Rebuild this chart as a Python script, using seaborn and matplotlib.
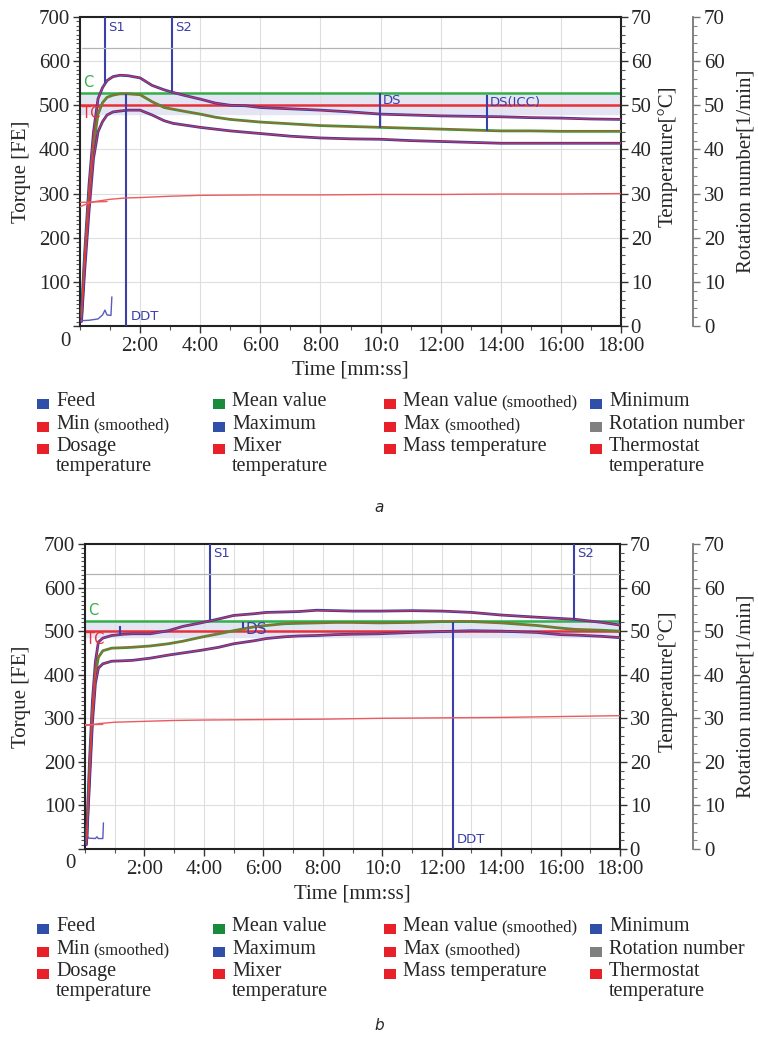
import numpy as np
import pandas as pd
import seaborn as sns
import matplotlib.pyplot as plt
from matplotlib.patches import Rectangle
from matplotlib.ticker import MultipleLocator
import matplotlib.transforms as mtrans

# ---------------- data ----------------
# panel a : torque curves [FE], time in minutes
time_a = [0.05, 0.15, 0.3, 0.45, 0.6, 0.75, 0.9, 1.1, 1.33, 1.6, 2.0, 2.4, 2.8, 3.1, 3.5, 4.0,
          4.5, 5.0, 5.5, 6.0, 7.0, 8.0, 9.0, 10.0, 11.0, 12.0, 13.0, 14.0, 15.0, 16.0, 17.0, 18.0]
max_a = [30, 160, 320, 440, 515, 540, 556, 565, 568, 567, 562, 545, 535, 529, 522, 514,
         505, 500, 499, 495, 492, 489, 485, 480, 478, 476, 475, 474, 472, 471, 469, 468]
mean_a = [20, 140, 290, 410, 480, 506, 518, 523, 526, 526, 524, 508, 495, 491, 486, 480,
          473, 468, 465, 462, 458, 454, 452, 450, 448, 446, 444, 442, 442, 441, 441, 441]
min_a = [10, 120, 260, 380, 440, 463, 478, 485, 487, 489, 489, 478, 465, 459, 455, 450,
         446, 442, 439, 436, 430, 426, 424, 423, 420, 418, 416, 414, 414, 414, 414, 414]
feed_time_a = [0.03, 0.3, 0.6, 0.75, 0.83, 0.9, 1.03, 1.06]
feed_a = [12, 13, 16, 25, 36, 25, 24, 66]

# panel b
time_b = [0.05, 0.15, 0.25, 0.35, 0.45, 0.6, 0.9, 1.3, 1.6, 2.2, 2.8, 3.3, 3.9, 4.5, 5.0, 5.7,
          6.1, 6.7, 7.2, 7.8, 8.4, 9.0, 9.9, 11.0, 12.0, 13.0, 14.0, 15.2, 16.0, 16.5, 17.4, 18.0]
max_b = [20, 200, 340, 430, 475, 484, 490, 493, 494, 494, 501, 511, 519, 528, 536, 540,
         543, 544, 545, 548, 547, 546, 546, 547, 546, 543, 537, 532, 529, 527, 520, 514]
mean_b = [15, 170, 310, 400, 440, 455, 461, 462, 463, 466, 471, 477, 486, 494, 501, 510,
          513, 517, 518, 519, 520, 520, 519, 520, 522, 522, 519, 513, 507, 504, 502, 500]
min_b = [10, 150, 290, 380, 415, 425, 431, 432, 433, 438, 445, 450, 456, 463, 471, 478,
         483, 487, 489, 490, 492, 493, 494, 497, 499, 501, 500, 497, 492, 491, 488, 485]
feed_time_b = [0.05, 0.12, 0.35, 0.4, 0.45, 0.55, 0.6, 0.62]
feed_b = [35, 25, 24, 28, 24, 24, 24, 60]

# temperatures [°C]
temp_time = [0.0, 0.2, 0.5, 1.0, 1.5, 2.0, 3.0, 4.0, 6.0, 8.0, 10.0, 12.0, 14.0, 16.0, 18.0]
temp_a = [27.0, 27.6, 28.2, 28.7, 29.0, 29.1, 29.4, 29.6, 29.7, 29.7, 29.8, 29.8, 29.9, 29.9, 30.0]
temp_b = [28.3, 28.5, 28.8, 29.1, 29.2, 29.3, 29.5, 29.6, 29.7, 29.8, 30.0, 30.1, 30.2, 30.4, 30.6]
dosage_time_a = [0.0, 0.9]
dosage_a = [28.0, 28.2]
dosage_time_b = [0.0, 0.6]
dosage_b = [28.5, 28.6]

# rotation number [1/min]
rot_time = [0.05, 18.0]
rot_value = [63, 63]

# tolerance values (C, TC) and band
c_a, tc_a, band_a = 527, 500, (480, 527)
c_b, tc_b, band_b = 523, 501, (487, 523)

# event markers: label, time, lower, upper
marks_a = [("S1", 0.84, 551, 700), ("S2", 3.06, 530, 700), ("DDT", 1.53, 0, 526),
           ("DS", 9.98, 449, 527), ("DS(ICC)", 13.53, 441, 524)]
marks_b = [("S1", 4.2, 526, 700), ("S2", 16.46, 526, 700), ("DDT", 12.37, 0, 522),
           ("DS", 5.3, 507, 522), ("", 1.18, 491, 512)]

xtick_pos = [2, 4, 6, 8, 10, 12, 14, 16, 18]
xtick_labels = ["2:00", "4:00", "6:00", "8:00", "10:0", "12:00", "14:00", "16:00", "18:00"]

legend_labels = ["Feed", "Mean value", "Mean value", "Minimum",
                 "Min", "Maximum", "Max", "Rotation number",
                 "Dosage\ntemperature", "Mixer\ntemperature", "Mass temperature", "Thermostat\ntemperature"]
legend_notes = ["", "", "(smoothed)", "", "(smoothed)", "", "(smoothed)", "", "", "", "", ""]
legend_colors = ["#2f4fa8", "#1a8a3c", "#e8202a", "#2f4fa8",
                 "#e8202a", "#2f4fa8", "#e8202a", "#808080",
                 "#e8202a", "#e8202a", "#e8202a", "#e8202a"]

# ---------------- style ----------------
sns.set_theme(style="ticks")
plt.rcParams['font.family'] = ['Liberation Serif', 'DejaVu Serif']
plt.rcParams['xtick.direction'] = 'out'
plt.rcParams['ytick.direction'] = 'out'

W, H = 758, 1039
fig = plt.figure(figsize=(W / 100, H / 100), dpi=100)

BLUE = "#3b3aa8"
RED = "#e8333c"
GREEN = "#2a9a3a"
MARK = "#3b3fa8"


def px_box(x0, y0, x1, y1):
    return [x0 / W, 1 - y1 / H, (x1 - x0) / W, (y1 - y0) / H]


def draw_panel(box, t, mx, mn, lo, ft, fv, tmp, dt, dv, c, tc, band, marks, grid_step, lab_y, ds_size):
    ax = fig.add_axes(px_box(*box))
    ax.set_xlim(0, 18)
    ax.set_ylim(0, 700)
    pw = box[2] - box[0]
    ph = box[3] - box[1]

    ax.axhspan(band[0], band[1], color="#e4e4f3", zorder=0)
    ax.grid(False)
    for g in np.arange(grid_step, 18, grid_step):
        ax.axvline(g, color="#dedede", lw=0.8, zorder=0.5)
    for g in range(100, 700, 100):
        ax.axhline(g, color="#dedede", lw=0.8, zorder=0.5)
    ax.axhline(c, color="#33b04a", lw=1.8, zorder=1)
    ax.axhline(tc, color="#e8303a", lw=1.8, zorder=1)

    df = pd.DataFrame({"t": t, "max": mx, "mean": mn, "min": lo})
    sns.lineplot(data=df, x="t", y="max", ax=ax, color=BLUE, lw=2.0, estimator=None, zorder=3)
    sns.lineplot(data=df, x="t", y="max", ax=ax, color=RED, lw=0.7, estimator=None, zorder=4)
    sns.lineplot(data=df, x="t", y="mean", ax=ax, color=GREEN, lw=2.0, estimator=None, zorder=3)
    sns.lineplot(data=df, x="t", y="mean", ax=ax, color="#d8502a", lw=0.7, estimator=None, zorder=4)
    sns.lineplot(data=df, x="t", y="min", ax=ax, color=BLUE, lw=2.0, estimator=None, zorder=3)
    sns.lineplot(data=df, x="t", y="min", ax=ax, color=RED, lw=0.7, estimator=None, zorder=4)
    sns.lineplot(x=ft, y=fv, ax=ax, color="#5a5ac0", lw=1.0, estimator=None, sort=False, zorder=3)

    for lab, mt, y0, y1 in marks:
        ax.vlines(mt, y0, y1, color=MARK, lw=1.5, zorder=5)
        if lab in ("S1", "S2"):
            ax.text(mt + 0.1, 692, lab, color=MARK, fontsize=9.5, family="DejaVu Sans",
                    va="top", ha="left")
        elif lab == "DDT":
            ax.text(mt + 0.15, 6, lab, color=MARK, fontsize=9.5, family="DejaVu Sans",
                    va="bottom", ha="left")
        elif lab == "DS":
            ax.text(mt + 0.1, y1 - 2, lab, color=MARK, fontsize=ds_size,
                    family="DejaVu Sans", va="top", ha="left")
        elif lab:
            ax.text(mt + 0.1, y1 - 2, lab, color=MARK, fontsize=9.5,
                    family="DejaVu Sans", va="top", ha="left")
    ax.text(0.1, c + 8, "C", color="#33b04a", fontsize=10.5, family="DejaVu Sans", va="bottom")
    ax.text(0.05, tc - 2, "TC", color="#e8303a", fontsize=10.5, family="DejaVu Sans", va="top")

    ax.set_xticks(xtick_pos)
    ax.set_xticklabels(xtick_labels)
    ax.xaxis.set_minor_locator(MultipleLocator(1))
    ax.set_yticks(range(0, 701, 100))
    ax.yaxis.set_minor_locator(MultipleLocator(10))
    ax.tick_params(axis="both", which="major", labelsize=15, length=5, width=1, color="#333333", pad=2)
    ax.tick_params(axis="x", which="major", pad=3)
    ax.tick_params(axis="both", which="minor", length=3, width=0.8, color="#555555")
    shift = mtrans.ScaledTranslation(0, -9 / 72, fig.dpi_scale_trans)
    lbl0 = ax.get_yticklabels()[0]
    lbl0.set_transform(lbl0.get_transform() + shift)
    for s in ax.spines.values():
        s.set_visible(True)
        s.set_color("#222222")
        s.set_linewidth(1.5)
    ax.set_xlabel("Time [mm:ss]", fontsize=15)
    ax.set_ylabel("Torque [FE]", fontsize=15)
    ax.xaxis.set_label_coords(0.5, -(lab_y - box[3]) / ph)
    ax.yaxis.set_label_coords(-(box[0] - 31) / pw, 0.5)

    # temperature axis
    axT = ax.twinx()
    axT.set_ylim(0, 70)
    sns.lineplot(x=temp_time, y=tmp, ax=axT, color="#ec5a60", lw=1.0, estimator=None)
    sns.lineplot(x=dt, y=dv, ax=axT, color="#ec5a60", lw=1.0, estimator=None)
    axT.set_yticks(range(0, 71, 10))
    axT.yaxis.set_minor_locator(MultipleLocator(2))
    axT.tick_params(axis="y", which="major", labelsize=15, length=5, width=1, color="#333333", pad=2)
    axT.tick_params(axis="y", which="minor", length=3, width=0.8, color="#555555")
    axT.set_ylabel("Temperature[°C]", fontsize=15)
    axT.yaxis.set_label_coords((658 - box[0]) / pw, 0.55)
    for s in axT.spines.values():
        s.set_visible(False)

    # rotation number axis
    axR = ax.twinx()
    axR.set_ylim(0, 70)
    axR.spines["right"].set_position(("axes", (693 - box[0]) / pw))
    for k in ("left", "top", "bottom"):
        axR.spines[k].set_visible(False)
    axR.spines["right"].set_visible(True)
    axR.spines["right"].set_color("#777777")
    axR.spines["right"].set_linewidth(1.3)
    sns.lineplot(x=rot_time, y=rot_value, ax=axR, color="#b4b4b4", lw=0.9, estimator=None)
    axR.set_yticks(range(0, 71, 10))
    axR.yaxis.set_minor_locator(MultipleLocator(2))
    axR.tick_params(axis="y", which="major", labelsize=15, length=5, width=1, color="#777777", pad=3)
    axR.tick_params(axis="y", which="minor", length=3, width=0.8, color="#888888")
    axR.set_ylabel("Rotation number[1/min]", fontsize=15)
    axR.yaxis.set_label_coords((736 - box[0]) / pw, 0.5)
    return ax


draw_panel((80, 17, 621, 326), time_a, max_a, mean_a, min_a, feed_time_a, feed_a, temp_a,
           dosage_time_a, dosage_a, c_a, tc_a, band_a, marks_a, 2, 361, 9.5)
draw_panel((85, 544, 620, 849), time_b, max_b, mean_b, min_b, feed_time_b, feed_b, temp_b,
           dosage_time_b, dosage_b, c_b, tc_b, band_b, marks_b, 1, 884, 11)

# ---------------- legends ----------------
renderer = fig.canvas.get_renderer()
col_x = [56, 232, 403, 609]
row_dy = [0, 23, 45]


def draw_legend(y0):
    for i, (lab, note, col) in enumerate(zip(legend_labels, legend_notes, legend_colors)):
        r, c = divmod(i, 4)
        x = col_x[c]
        y = y0 + row_dy[r]
        fig.add_artist(Rectangle(((x - 19) / W, 1 - (y + 5) / H), 12 / W, 10 / H,
                                 transform=fig.transFigure, facecolor=col, edgecolor="none"))
        t = fig.text(x / W, 1 - (y - 12) / H, lab, fontsize=14.5, va="top", ha="left",
                     linespacing=1.1)
        if note:
            bb = t.get_window_extent(renderer)
            fig.text((bb.x1 + 4) / W, 1 - (y - 10) / H, note, fontsize=12, va="top", ha="left")


draw_legend(404)
draw_legend(929)

fig.text(379 / W, 1 - 508 / H, "a", fontsize=11, style="italic", family="DejaVu Sans", ha="center", va="center")
fig.text(379 / W, 1 - 1026 / H, "b", fontsize=11, style="italic", family="DejaVu Sans", ha="center", va="center")

fig.savefig("out.png", dpi=100)
